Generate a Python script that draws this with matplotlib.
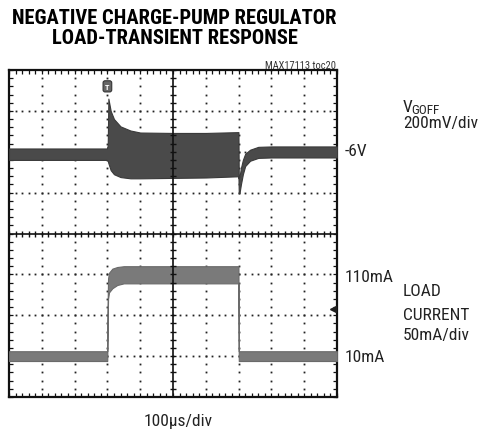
import matplotlib
matplotlib.use("Agg")
import matplotlib.pyplot as plt
from matplotlib import font_manager as fm
import numpy as np

# ---------------- data ----------------
# time in microseconds, 100 us/div, 10 divisions
t_v = [0, 298, 301, 303, 310, 320, 340, 370, 400, 500, 600, 699.5, 700.5, 703, 707, 713, 720, 735, 760, 800, 1000]
# VGOFF envelope in volts (-6V reference, 200 mV/div)
v_upper = [-5.984, -5.984, -5.970, -5.740, -5.800, -5.840, -5.876, -5.896, -5.906, -5.908, -5.908, -5.904,
           -6.130, -6.120, -6.080, -6.040, -6.010, -5.990, -5.976, -5.974, -5.974]
v_lower = [-6.040, -6.040, -6.044, -6.056, -6.090, -6.110, -6.124, -6.130, -6.130, -6.128, -6.126, -6.120,
           -6.200, -6.200, -6.160, -6.110, -6.070, -6.044, -6.030, -6.028, -6.028]

t_i = [0, 299.5, 300.5, 302, 305, 315, 330, 350, 500, 699.5, 700.5, 1000]
# load current envelope in mA (50 mA/div)
i_upper = [16, 16, 70, 105, 112, 117, 119, 120, 120, 120, 16, 16]
i_lower = [4, 4, 40, 80, 88, 93, 97, 99, 99, 99, 4, 4]

V_REF, V_DIV, V_POS = -6.0, 0.2, 2.0      # -6V sits 2 div above centre
I_REF, I_DIV, I_POS = 10.0, 50.0, -3.0     # 10mA sits 3 div below centre


def font(size, bold=False):
    want = 700 if bold else 400
    for name in ['Liberation Sans Narrow', 'Roboto Condensed', 'Archivo Narrow', 'PT Sans Narrow']:
        cands = [f for f in fm.fontManager.ttflist if f.name == name]
        if cands:
            best = min(cands, key=lambda f: (abs((f.weight if isinstance(f.weight, int) else 400) - want),
                                             'italic' in f.style))
            return fm.FontProperties(fname=best.fname, size=size)
    return fm.FontProperties(family='DejaVu Sans', size=size, weight='bold' if bold else 'normal',
                             stretch='condensed')


# ---------------- figure ----------------
W, H = 478, 431
fig = plt.figure(figsize=(W / 100, H / 100), dpi=100)


def px(x, y):
    return x / W, 1 - y / H


ax = fig.add_axes([9 / W, 33 / H, 328 / W, 327 / H])
ax.set_xlim(0, 1000)
ax.set_ylim(-4, 4)


def vdiv(v):
    return [V_POS + (a - V_REF) / V_DIV for a in v]


def idiv(i):
    return [I_POS + (a - I_REF) / I_DIV for a in i]


# traces
ax.fill_between(t_v, vdiv(v_lower), vdiv(v_upper), color='#4a4a4a', lw=0.8, edgecolor='#3a3a3a', zorder=3)
ax.fill_between(t_i, idiv(i_lower), idiv(i_upper), color='#7a7a7a', lw=0.8, edgecolor='#6a6a6a', zorder=3)

# dotted graticule
dot_kw = dict(ls='none', marker='s', ms=1.3, mew=0, color='#222222', zorder=2)
ys = np.arange(-4, 4.001, 0.2)
xs = np.arange(0, 1000.1, 20)
for k in range(1, 10):
    if k == 5:
        continue
    ax.plot([k * 100] * len(ys), ys, **dot_kw)
for j in [-3, -2, -1, 1, 2, 3]:
    ax.plot(xs, [j] * len(xs), **dot_kw)

# centre axes with cross ticks
ax.axhline(0, color='#111111', lw=1.2, zorder=4)
ax.axvline(500, color='#111111', lw=1.2, zorder=4)
ax.plot(xs, [0] * len(xs), ls='none', marker='|', ms=5, mew=1.0, color='#111111', zorder=4)
ax.plot([500] * len(ys), ys, ls='none', marker='_', ms=5, mew=1.0, color='#111111', zorder=4)

# border ticks
ax.set_xticks(xs)
ax.set_yticks(ys)
ax.set_xticklabels([])
ax.set_yticklabels([])
ax.tick_params(direction='in', length=3, width=0.9, color='#111111',
               top=True, right=True, bottom=True, left=True)
for s in ax.spines.values():
    s.set_linewidth(1.6)
    s.set_color('#111111')

# trigger marker and ground marker
ax.text(300, 3.6, 'T', ha='center', va='center', color='white',
        fontproperties=font(6, True), zorder=6,
        bbox=dict(boxstyle='round,pad=0.25', fc='#666666', ec='#333333', lw=0.8))
ax.plot([987], [-1.85], marker='<', ms=4, color='#222222', zorder=6)

# ---------------- texts ----------------
title_fp = font(14.8, True)
fig.text(*px(174, 19), 'NEGATIVE CHARGE-PUMP REGULATOR', ha='center', va='center', fontproperties=title_fp)
fig.text(*px(175, 39), 'LOAD-TRANSIENT RESPONSE', ha='center', va='center', fontproperties=title_fp)
fig.text(*px(336, 66), 'MAX17113 toc20', ha='right', va='center', fontproperties=font(7.5), color='#333333')

lab_fp = font(12.5)
lab = dict(fontproperties=lab_fp, va='center', ha='left', color='#222222')
fig.text(*px(403, 107), 'V', **lab)
fig.text(*px(411.5, 110), 'GOFF', fontproperties=font(9.5), va='center', ha='left', color='#222222')
fig.text(*px(403, 124), '200mV/div', **lab)
fig.text(*px(345, 151), '-6V', **lab)
fig.text(*px(345, 278), '110mA', **lab)
fig.text(*px(403, 292), 'LOAD', **lab)
fig.text(*px(403, 316), 'CURRENT', **lab)
fig.text(*px(403, 336), '50mA/div', **lab)
fig.text(*px(345, 358), '10mA', **lab)
fig.text(*px(178, 422), '100\u00b5s/div', **{**lab, 'ha': 'center'})

fig.savefig('out.png', dpi=100)
